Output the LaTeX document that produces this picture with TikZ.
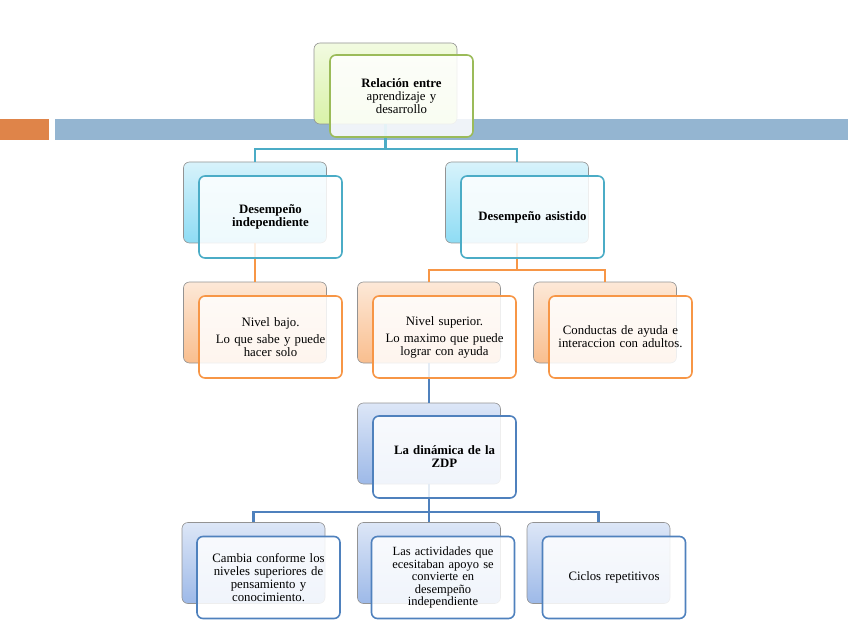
\documentclass[tikz,border=0pt]{standalone}
\usepackage{fontspec}
\setmainfont{Liberation Serif}
\usetikzlibrary{positioning}

\definecolor{verde}{HTML}{9BBB59}
\definecolor{turquesa}{HTML}{4BACC6}
\definecolor{naranja}{HTML}{F79646}
\definecolor{azul}{HTML}{4F81BD}
\definecolor{barranar}{HTML}{DF8449}
\definecolor{barraazul}{HTML}{94B5D1}
\definecolor{fverde}{HTML}{D9F2A8}
\definecolor{fturq}{HTML}{8EDCF4}
\definecolor{fnar}{HTML}{F9BE8E}
\definecolor{fazul}{HTML}{9DB9E8}

\tikzset{
	fondo/.style={rounded corners=6, draw=gray!85, line width=0.6pt,
		top color=#1!35, bottom color=#1, minimum width=143, minimum height=81, inner sep=0pt},
	frente/.style={rounded corners=6, draw=#1, line width=1.6pt, fill=white, fill opacity=0.85,
		text opacity=1, minimum width=143, minimum height=82, align=center,
		text width=138, inner sep=2pt, font=\fontsize{12.8}{13}\selectfont},
	linea/.style={#1, line width=2.2pt}
}

\begin{document}
\begin{tikzpicture}[x=1pt, y=-1pt]
			\useasboundingbox (0,0) rectangle (848,636);
			
			% barras
			\fill[barranar] (0,119) rectangle (49,140);
			\fill[barraazul] (55,119) rectangle (848,140);
			
			% cajas de fondo
			\node[fondo=fverde] (rel) at (385.5,83.5) {};
			\node[fondo=fturq] (ind) at (255,202.5) {};
			\node[fondo=fturq] (asi) at (517,202.5) {};
			\node[fondo=fnar] (bajo) at (255,322.5) {};
			\node[fondo=fnar] (sup) at (429,322.5) {};
			\node[fondo=fnar] (cond) at (605,322.5) {};
			\node[fondo=fazul] (zdp) at (429,443.5) {};
			\node[fondo=fazul] (camb) at (253.5,563) {};
			\node[fondo=fazul] (act) at (429,563) {};
			\node[fondo=fazul] (cic) at (598.5,563) {};
			
			% conectores
			\draw[linea=turquesa] (rel.south) -- ++(0,25) coordinate (tA) -| (ind.north);
			\draw[linea=turquesa] (tA) -| (asi.north);
			\draw[linea=naranja] (ind.south) -- (bajo.north);
			\draw[linea=naranja] (asi.south) -- ++(0,27) coordinate (nA) -| (sup.north);
			\draw[linea=naranja] (nA) -| (cond.north);
			\draw[linea=azul] (sup.south) -- (zdp.north);
			\draw[linea=azul] (zdp.south) -- ++(0,28) coordinate (aA) -| (camb.north);
			\draw[linea=azul] (aA) -- (act.north);
			\draw[linea=azul] (aA) -| (cic.north);
			
			% cajas de frente
			\node[frente=verde] (relF) at (401.5,96) {\textbf{Relación entre}\\ aprendizaje y\\ desarrollo};
			\node[frente=turquesa] (indF) at (270.5,217) {\textbf{Desempeño}\\ \textbf{independiente}};
			\node[frente=turquesa] (asiF) at (532.5,217) {\textbf{Desempeño asistido}};
			\node[frente=naranja] (bajoF) at (270.5,337) {Nivel bajo.\\[4pt] Lo que sabe y puede\\ hacer solo};
			\node[frente=naranja] (supF) at (444.5,337) {Nivel superior.\\[4pt] Lo maximo que puede\\ lograr con ayuda};
			\node[frente=naranja] (condF) at (620.5,337) {Conductas de ayuda e\\ interaccion con adultos.};
			\node[frente=azul] (zdpF) at (444.5,457) {\textbf{La dinámica de la}\\ \textbf{ZDP}};
			\node[frente=azul] (cambF) at (268.5,577.5) {Cambia conforme los\\ niveles superiores de\\ pensamiento y\\ conocimiento.};
			\node[frente=azul, font=\fontsize{12.5}{12.5}\selectfont] (actF) at (443,577.5) {Las actividades que\\ ecesitaban apoyo se\\ convierte en\\ desempeño\\ independiente};
			\node[frente=azul] (cicF) at (614,577.5) {Ciclos repetitivos};
		\end{tikzpicture}
\end{document}
